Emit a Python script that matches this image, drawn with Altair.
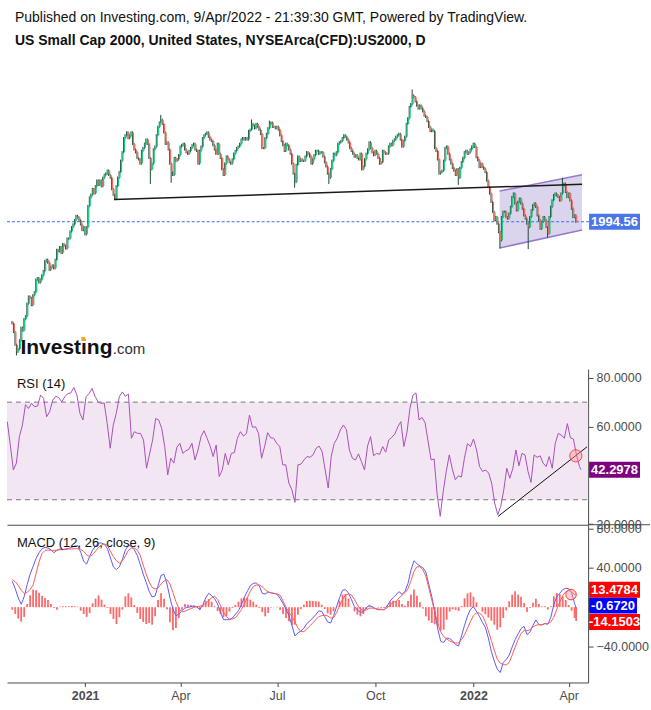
import altair as alt
import pandas as pd

# ---------------- price data (daily closes) ----------------
oct20 = [1635, 1605, 1560, 1535, 1545]
nov20 = [1575, 1620, 1610, 1650, 1660, 1705, 1730, 1725, 1700, 1735, 1745, 1790, 1795, 1780, 1790,
         1805, 1820, 1855, 1860, 1850, 1825]
dec20 = [1835, 1840, 1830, 1860, 1895, 1890, 1905, 1885, 1915, 1910, 1900, 1935, 1935, 1960, 1975,
         1985, 2000, 2015, 2010, 2000, 1985, 1965, 1975]
jan21 = [1950, 1975, 2050, 2080, 2090, 2110, 2095, 2120, 2140, 2125, 2140, 2120, 2150, 2160, 2165,
         2175, 2160, 2150, 2110, 2090, 2075]
feb21 = [2120, 2150, 2170, 2210, 2240, 2290, 2300, 2310, 2290, 2300, 2310, 2270, 2250, 2240, 2220,
         2215, 2200, 2245, 2255, 2270]
mar21 = [2285, 2270, 2220, 2180, 2200, 2250, 2260, 2300, 2330, 2345, 2355, 2340, 2310, 2270, 2275,
         2250, 2200, 2170, 2160, 2220, 2210, 2215, 2230]
apr21 = [2260, 2265, 2270, 2250, 2240, 2235, 2245, 2255, 2265, 2270, 2250, 2245, 2200, 2245, 2260,
         2290, 2300, 2305, 2310, 2295, 2285, 2280]
may21 = [2265, 2250, 2235, 2270, 2235, 2220, 2180, 2160, 2200, 2225, 2215, 2205, 2200, 2215, 2235,
         2245, 2255, 2260, 2270, 2285, 2290]
jun21 = [2285, 2290, 2285, 2315, 2320, 2340, 2335, 2325, 2340, 2330, 2320, 2305, 2255, 2255, 2290,
         2305, 2325, 2340, 2345, 2330, 2330, 2325]
jul21 = [2330, 2320, 2300, 2280, 2265, 2245, 2270, 2265, 2250, 2235, 2200, 2165, 2135, 2195, 2225,
         2210, 2215, 2210, 2210, 2225, 2240, 2235]
aug21 = [2225, 2200, 2215, 2230, 2245, 2245, 2235, 2240, 2240, 2225, 2205, 2190, 2165, 2150, 2180,
         2210, 2235, 2230, 2240, 2270, 2275, 2280]
sep21 = [2290, 2300, 2295, 2285, 2275, 2255, 2245, 2235, 2225, 2230, 2220, 2215, 2235, 2180, 2190,
         2215, 2235, 2250, 2275, 2255, 2240, 2230]
oct21 = [2245, 2235, 2220, 2200, 2205, 2245, 2240, 2235, 2235, 2260, 2270, 2265, 2280, 2285, 2295,
         2300, 2305, 2285, 2260, 2280, 2295]
nov21 = [2340, 2360, 2400, 2410, 2440, 2435, 2420, 2405, 2395, 2405, 2395, 2385, 2370, 2365, 2350,
         2330, 2315, 2320, 2315, 2255, 2245, 2215]
dec21 = [2165, 2170, 2175, 2210, 2255, 2260, 2235, 2215, 2200, 2185, 2175, 2160, 2180, 2150, 2185,
         2205, 2220, 2240, 2245, 2235, 2240, 2250, 2260]
jan22 = [2270, 2259, 2223, 2212, 2188, 2200, 2188, 2182, 2170, 2140, 2117, 2094, 2065, 2030, 2000,
         2011, 1988, 1958, 1929, 2011, 2030]
feb22 = [2030, 2011, 2006, 2023, 2047, 2082, 2094, 2059, 2035, 2065, 2076, 2059, 2041, 2017, 2006,
         1988, 1976, 2011, 2035, 2053]
mar22 = [2059, 2047, 2017, 2000, 1970, 1994, 2011, 2000, 1976, 1953, 2011, 2047, 2070, 2088, 2094,
         2088, 2082, 2070, 2094, 2123, 2129, 2100, 2082]
apr22 = [2094, 2070, 2041, 2011, 2017, 1994.56]

closes = (oct20 + nov20 + dec20 + jan21 + feb21 + mar21 + apr21 + may21 + jun21 + jul21 + aug21
          + sep21 + oct21 + nov21 + dec21 + jan22 + feb22 + mar22 + apr22)
first_open = 1640
wick_pad = 4
high_wicks = {100: 2372, 161: 2356, 173: 2352, 269: 2462, 370: 2150}
low_wicks = {3: 1522, 93: 2128, 107: 2132, 190: 2115, 213: 2128, 300: 2125, 328: 1900, 347: 1898,
             360: 1938}
last_price = 1994.56
price_ticks = [1500, 1600, 1700, 1800, 1900, 2100, 2200, 2300, 2400, 2500]

# ---------------- indicators (every second session) ----------------
rsi = [62.0, 52.4, 42.2, 45.0, 55.9, 60.6, 69.0, 67.4, 69.5, 68.1,
       68.4, 72.9, 71.5, 64.0, 66.1, 70.8, 72.4, 71.9, 70.1, 72.2,
       73.5, 73.8, 76.0, 72.9, 65.4, 62.7, 72.2, 73.5, 75.6, 72.4,
       70.1, 69.5, 69.7, 61.3, 51.1, 60.6, 65.4, 72.2, 74.2, 72.4,
       73.3, 55.2, 57.9, 57.2, 57.2, 54.5, 42.9, 48.8, 54.5, 63.3,
       62.7, 59.3, 51.8, 40.2, 47.0, 45.0, 51.5, 53.1, 49.0, 50.1,
       50.7, 53.1, 46.3, 50.4, 55.9, 58.3, 55.2, 52.0, 47.7, 52.4,
       39.5, 42.2, 49.0, 44.3, 49.0, 49.3, 55.2, 57.9, 56.1, 57.2,
       64.7, 59.7, 59.9, 57.2, 47.0, 51.8, 57.5, 55.4, 55.2, 53.1,
       51.8, 44.3, 44.3, 36.8, 34.1, 28.9, 44.3, 44.6, 46.3, 47.7,
       47.4, 48.4, 51.1, 52.0, 49.7, 42.2, 34.8, 47.7, 53.1, 55.2,
       58.6, 60.6, 58.8, 50.4, 47.0, 46.3, 48.8, 45.6, 42.2, 52.0,
       55.9, 48.0, 49.0, 48.6, 51.8, 49.5, 54.5, 55.6, 56.9, 59.9,
       62.0, 51.8, 57.5, 67.4, 72.9, 73.8, 62.7, 63.7, 61.6, 53.8,
       46.3, 46.7, 32.0, 23.2, 33.4, 41.6, 48.4, 42.5, 38.2, 39.8,
       39.3, 47.0, 53.0, 51.8, 54.9, 50.4, 43.6, 41.6, 42.2, 40.9,
       36.8, 28.6, 23.9, 27.3, 34.1, 42.9, 38.8, 42.9, 50.4, 43.9,
       49.0, 48.4, 41.6, 37.1, 48.4, 47.4, 48.0, 45.0, 43.6, 47.7,
       42.9, 53.1, 57.2, 56.5, 55.2, 61.2, 55.4, 54.9, 48.4, 43.6,
       42.2978]
macd = [26.4, 18.9, 9.4, 2.9, 10.7, 23.0, 33.8, 41.7, 49.8, 55.6,
        59.7, 61.1, 60.4, 58.7, 55.6, 58.0, 59.4, 59.0, 59.4, 60.0,
        61.1, 62.4, 62.8, 56.0, 46.8, 44.0, 51.9, 58.3, 62.4, 65.5,
        65.5, 64.1, 59.7, 50.2, 41.0, 38.3, 41.3, 48.8, 58.3, 63.1,
        62.1, 58.7, 52.9, 43.7, 33.8, 25.3, 16.2, 10.4, 11.4, 21.9,
        32.5, 33.5, 23.6, 9.4, -2.2, -8.7, -7.3, -3.6, -0.9, -0.2,
        0.5, 1.2, 0.5, -2.6, 1.9, 9.4, 14.1, 11.7, 8.7, 3.2,
        -5.6, -12.8, -12.8, -12.8, -11.1, -7.3, -3.6, 2.6, 10.0, 16.2,
        21.9, 24.3, 24.7, 21.9, 14.1, 13.4, 15.5, 14.5, 14.1, 13.1,
        9.0, 3.6, -1.9, -8.7, -18.9, -29.4, -26.4, -24.3, -21.6, -16.8,
        -14.1, -11.1, -7.7, -3.9, -4.3, -9.7, -15.1, -16.2, -8.7, 0.5,
        9.7, 17.2, 17.9, 14.5, 7.7, 0.5, -2.9, -5.3, -4.9, -0.5,
        1.9, 0.2, -1.5, -2.6, -2.6, -2.6, 1.2, 6.3, 9.7, 12.8,
        15.8, 13.1, 16.2, 24.3, 37.9, 47.4, 44.4, 42.0, 40.3, 35.9,
        23.0, 10.7, -4.9, -22.3, -34.9, -36.2, -31.5, -32.1, -34.5, -38.3,
        -39.6, -29.4, -18.5, -9.0, -2.2, 0.5, -4.3, -9.4, -15.5, -20.6,
        -31.5, -45.1, -55.3, -63.4, -66.8, -56.6, -53.6, -49.1, -40.8, -33.2,
        -27.4, -22.0, -19.6, -28.1, -25.3, -18.5, -13.1, -17.9, -18.2, -16.8,
        -17.5, -10.4, 2.6, 10.7, 14.1, 17.9, 19.2, 18.9, 14.5, 3.6,
        -0.672]
signal = [28.1, 26.0, 22.3, 17.2, 13.8, 15.1, 18.2, 22.6, 34.2, 46.4,
          54.9, 58.0, 58.3, 58.0, 58.0, 58.3, 58.7, 58.7, 59.0, 59.4,
          59.4, 59.7, 59.7, 59.0, 57.0, 53.2, 51.9, 53.6, 57.3, 61.1,
          63.4, 64.5, 63.1, 57.0, 51.5, 47.4, 45.1, 47.1, 52.2, 58.0,
          60.4, 60.4, 58.3, 52.9, 43.0, 33.8, 25.7, 20.2, 18.5, 19.6,
          23.6, 26.7, 28.1, 23.6, 14.8, 5.6, -1.5, -4.9, -4.3, -2.9,
          -1.5, -0.2, 0.5, 0.9, 1.9, 3.9, 6.3, 9.7, 11.1, 7.7,
          1.5, -5.3, -10.0, -12.1, -12.1, -10.7, -7.0, -2.6, 3.2, 9.7,
          16.2, 20.9, 22.6, 22.6, 20.9, 17.9, 15.5, 14.5, 14.1, 13.4,
          12.1, 6.3, -0.2, -5.3, -9.7, -15.1, -21.3, -25.0, -25.0, -22.3,
          -19.2, -16.2, -12.8, -9.7, -8.7, -8.3, -9.0, -11.1, -10.7, -5.6,
          1.5, 7.7, 12.4, 13.4, 12.4, 8.0, 2.2, -1.9, -3.6, -2.9,
          -1.2, -0.9, -1.5, -1.9, -2.2, -2.6, -0.5, 2.2, 4.9, 6.0,
          9.4, 12.1, 14.8, 18.9, 27.0, 36.6, 41.3, 41.3, 38.3, 31.5,
          19.6, 7.3, -4.9, -17.2, -25.3, -30.1, -32.5, -34.5, -35.9, -36.6,
          -36.6, -33.2, -28.4, -21.6, -14.5, -8.7, -6.0, -6.0, -8.7, -15.1,
          -24.0, -34.2, -44.0, -53.2, -57.3, -58.7, -59.0, -56.6, -49.1, -41.0,
          -33.2, -27.0, -24.0, -24.0, -23.0, -20.2, -18.5, -17.9, -17.9, -16.8,
          -16.8, -15.1, -10.4, -2.2, 5.3, 11.7, 15.8, 17.2, 15.5, 12.8,
          13.4784]
hist = [-2.6, -7.0, -11.7, -14.8, -10.0, 3.2, 12.1, 17.9, 17.2, 14.8,
        11.7, 9.4, 7.3, 3.2, -0.9, -2.6, 0.5, 0.9, 0.9, 0.9,
        1.2, 0.9, 0.5, -3.6, -7.0, -10.0, -6.0, 3.9, 8.7, 12.1,
        7.7, 2.6, -0.9, -7.0, -12.1, -17.2, -10.4, -2.6, 11.1, 14.1,
        10.0, 2.2, -6.0, -12.1, -15.1, -17.2, -16.2, -17.9, -9.4, 7.3,
        14.1, 8.7, -2.2, -15.5, -23.6, -21.3, -11.1, -2.6, 3.2, 2.6,
        2.2, 1.5, -0.5, -2.6, 2.2, 6.6, 8.3, 5.6, 0.9, -3.9,
        -7.0, -10.4, -9.0, -4.6, -0.9, 2.2, 5.6, 9.0, 10.0, 10.0,
        7.7, 5.6, 2.6, -0.9, -4.9, -9.4, -6.0, -0.5, 0.2, 0.5,
        -2.6, -7.0, -11.1, -14.5, -18.5, -17.9, -7.7, -1.9, 2.6, 6.3,
        6.6, 6.3, 6.0, 5.6, 2.6, -1.9, -6.3, -7.7, -4.3, 0.9,
        6.6, 12.8, 13.4, 8.7, 0.2, -4.3, -7.7, -9.4, -7.0, -1.9,
        1.2, 0.5, -0.2, -0.5, -0.9, -0.9, 1.5, 5.6, 6.6, 6.0,
        7.3, 3.2, 1.5, 6.3, 12.8, 17.9, 11.7, 4.9, -1.5, -9.4,
        -13.8, -16.2, -17.5, -18.9, -24.0, -23.0, -12.8, -4.6, -2.2, -2.9,
        -3.9, 1.2, 9.0, 14.1, 15.1, 10.7, 4.9, -0.2, -4.6, -7.3,
        -10.7, -13.8, -17.9, -23.0, -20.6, -11.1, -3.2, 6.0, 12.8, 16.2,
        12.8, 10.7, 4.3, -4.9, -0.9, 4.6, 8.7, 3.2, 0.9, 0.9,
        -2.6, 0.9, 11.1, 14.5, 13.4, 11.1, 7.3, 2.2, -3.6, -11.1,
        -14.1503]
rsi_ticks = [20, 60, 80]
macd_ticks = [80, 40, -40]

# ---------------- annotations (drawn on the chart) ----------------
neck_i = [68.4, 383.0]
neck_v = [2073, 2127]
chan_i = [327.6, 383.0]
chan_lo = [1902, 1965]
chan_hi = [2103, 2161]
rsi_trend_i = [324.3, 383.0]
rsi_trend_v = [23.2, 51.7]
rsi_circle = (375.6, 48.0)
macd_circle = (375.6, 12.8)

# ---------------- styling ----------------
FONT = "Liberation Sans"
AX = "#4a4a4a"
LAB = "#4d4d4d"
GREEN = "#19cc84"
RED = "#f26c5f"
DARK = "#1b4a35"
W = 582
H_P, H_R, H_M = 314, 156, 158
XDOM = [-0.2, 383.7]

n = len(closes)
dates = pd.bdate_range("2020-10-26", periods=n)
opens = [first_open] + closes[:-1]
rows = []
for i, (o, c) in enumerate(zip(opens, closes)):
    rows.append(dict(i=i, o=o, c=c,
                     h=high_wicks.get(i, max(o, c) + wick_pad),
                     l=low_wicks.get(i, min(o, c) - wick_pad),
                     d="up" if c >= o else "down"))
candles = pd.DataFrame(rows)

ind_i = list(range(0, n, 2)) + [n - 1]
ind = pd.DataFrame({"i": ind_i, "rsi": rsi, "macd": macd, "signal": signal, "hist": hist})
ind["zero"] = 0.0

tick_idx, tick_lab = [], []
for j in range(1, n):
    if dates[j].month != dates[j - 1].month and dates[j].month in (1, 4, 7, 10):
        tick_idx.append(j)
        tick_lab.append(str(dates[j].year) if dates[j].month == 1 else dates[j].strftime("%b"))
label_expr = " : ".join(f"datum.value == {t} ? '{l}'" for t, l in zip(tick_idx, tick_lab)) + " : ''"
bold_test = " || ".join(f"datum.value == {t}" for t, l in zip(tick_idx, tick_lab) if l.isdigit())

xscale = alt.Scale(domain=XDOM, nice=False, zero=False)
sep_axis = alt.Axis(orient="bottom", labels=False, ticks=False, domain=True, domainColor=AX,
                    title=None, grid=False)
date_axis = alt.Axis(orient="bottom", values=tick_idx, labelExpr=label_expr, title=None, grid=False,
                     domainColor=AX, tickColor=AX, tickSize=4, labelColor=LAB, labelFont=FONT,
                     labelFontSize=12.5, labelPadding=3,
                     labelFontWeight={"condition": {"test": bold_test, "value": "bold"},
                                      "value": "normal"})


def yaxis(values, fmt):
    return alt.Axis(orient="right", values=values, format=fmt, title=None, grid=False,
                    domainColor=AX, tickColor=AX, tickSize=5, labelColor=LAB, labelFont=FONT,
                    labelFontSize=12.5, labelPadding=3)


p_scale = alt.Scale(domain=[1474.2, 2582.2], nice=False, zero=False)
p_axis = yaxis(price_ticks, ".2f")
r_scale = alt.Scale(domain=[19.75, 83.6], nice=False, zero=False)
r_axis = yaxis(rsi_ticks, ".4f")
m_scale = alt.Scale(domain=[-77.0, 84.2], nice=False, zero=False)
m_axis = yaxis(macd_ticks, ".4f")


def PX(ax=sep_axis):
    return alt.X("i:Q", scale=xscale, axis=ax)


one = pd.DataFrame({"a": [0]})

# ---------------- price panel ----------------
bg = alt.Chart(one).mark_rect(fill="white").encode(
    x=alt.value(-7), x2=alt.value(644), y=alt.value(-55), y2=alt.value(655))
title1 = alt.Chart(one).mark_text(align="left", baseline="middle", font=FONT, fontSize=14,
                                  color="#111").encode(
    x=alt.value(8), y=alt.value(-38),
    text=alt.value("Published on Investing.com, 9/Apr/2022 - 21:39:30 GMT, Powered by TradingView."))
title2 = alt.Chart(one).mark_text(align="left", baseline="middle", font=FONT, fontSize=14,
                                  fontWeight="bold", color="#111").encode(
    x=alt.value(8), y=alt.value(-14),
    text=alt.value("US Small Cap 2000, United States, NYSEArca(CFD):US2000, D"))

chan_df = pd.DataFrame({"i": chan_i, "lo": chan_lo, "hi": chan_hi})
channel = alt.Chart(chan_df).mark_area(color="#cdc6e6", opacity=0.75).encode(
    x=PX(), y=alt.Y("lo:Q", scale=p_scale, axis=p_axis), y2="hi:Q")
chan_top = alt.Chart(chan_df).mark_line(color="#9a78cf", strokeWidth=1.5).encode(
    x=PX(), y=alt.Y("hi:Q", scale=p_scale, axis=p_axis))
chan_bot = alt.Chart(chan_df).mark_line(color="#9a78cf", strokeWidth=1.5).encode(
    x=PX(), y=alt.Y("lo:Q", scale=p_scale, axis=p_axis))

last_df = pd.DataFrame({"v": [last_price], "t": [f"{last_price:.2f}"]})
last_line = alt.Chart(last_df).mark_rule(color="#3a6df0", strokeWidth=1, strokeDash=[3, 2]).encode(
    y=alt.Y("v:Q", scale=p_scale, axis=p_axis), x=alt.value(0), x2=alt.value(583))

wicks = alt.Chart(candles).mark_rule(color=DARK, strokeWidth=1, xOffset=-0.3).encode(
    x=PX(), y=alt.Y("l:Q", scale=p_scale, axis=p_axis), y2="h:Q")
bodies = alt.Chart(candles).mark_bar(width=1.3, xOffset=0.6).encode(
    x=PX(), y=alt.Y("o:Q", scale=p_scale, axis=p_axis), y2="c:Q",
    color=alt.Color("d:N", scale=alt.Scale(domain=["up", "down"], range=[GREEN, RED]), legend=None))

neck_df = pd.DataFrame({"i": neck_i, "v": neck_v})
neck = alt.Chart(neck_df).mark_line(color="#1a1a1a", strokeWidth=1.5).encode(
    x=PX(), y=alt.Y("v:Q", scale=p_scale, axis=p_axis))

last_box = alt.Chart(last_df).mark_rule(color="#4a76e8", strokeWidth=16).encode(
    y=alt.Y("v:Q", scale=p_scale, axis=p_axis), x=alt.value(583), x2=alt.value(634))
last_txt = alt.Chart(last_df).mark_text(color="white", font=FONT, fontSize=13, fontWeight="bold",
                                        align="center", baseline="middle").encode(
    y=alt.Y("v:Q", scale=p_scale, axis=p_axis), x=alt.value(608.5), text="t:N")

logo1 = alt.Chart(one).mark_text(align="left", baseline="alphabetic", font=FONT, fontSize=21,
                                 fontWeight="bold", color="#111").encode(
    x=alt.value(13.5), y=alt.value(298.5), text=alt.value("Investing"))
logo2 = alt.Chart(one).mark_text(align="left", baseline="alphabetic", font=FONT, fontSize=15,
                                 color="#333").encode(
    x=alt.value(106), y=alt.value(298.5), text=alt.value(".com"))
logo_dot = alt.Chart(one).mark_square(color="#f5a623", size=16, opacity=1).encode(
    x=alt.value(76.5), y=alt.value(284))

price = alt.layer(bg, title1, title2, channel, chan_top, chan_bot, last_line, wicks, bodies, neck,
                  last_box, last_txt, logo1, logo2, logo_dot).properties(width=W, height=H_P)

# ---------------- RSI panel ----------------
band_df = pd.DataFrame({"top": [70], "bot": [30]})
lvl_df = pd.DataFrame({"v": [70, 30]})
band = alt.Chart(band_df).mark_rect(color="#f2e6f2").encode(
    y=alt.Y("top:Q", scale=r_scale, axis=r_axis), y2="bot:Q", x=alt.value(0), x2=alt.value(W))
levels = alt.Chart(lvl_df).mark_rule(color="#777777", strokeDash=[5, 4], strokeWidth=1).encode(
    y=alt.Y("v:Q", scale=r_scale, axis=r_axis), x=alt.value(0), x2=alt.value(W))
rsi_line = alt.Chart(ind).mark_line(color="#ab4fbd", strokeWidth=1).encode(
    x=PX(), y=alt.Y("rsi:Q", scale=r_scale, axis=r_axis))
rt_df = pd.DataFrame({"i": rsi_trend_i, "v": rsi_trend_v})
rsi_trend = alt.Chart(rt_df).mark_line(color="#111", strokeWidth=1).encode(
    x=PX(), y=alt.Y("v:Q", scale=r_scale, axis=r_axis))
rc_df = pd.DataFrame({"i": [rsi_circle[0]], "v": [rsi_circle[1]]})
rsi_circ = alt.Chart(rc_df).mark_point(shape="circle", filled=True, fill="#ff9a9a", fillOpacity=0.45,
                                       stroke="#f04040", strokeWidth=1, strokeOpacity=0.9,
                                       size=150).encode(
    x=PX(), y=alt.Y("v:Q", scale=r_scale, axis=r_axis))
rsi_title = alt.Chart(one).mark_text(align="left", baseline="middle", font=FONT, fontSize=13,
                                     color="#111").encode(
    x=alt.value(10), y=alt.value(15), text=alt.value("RSI (14)"))
rl_df = pd.DataFrame({"v": [rsi[-1]], "t": [f"{rsi[-1]:.4f}"]})
rsi_box = alt.Chart(rl_df).mark_rule(color="#7f007f", strokeWidth=16).encode(
    y=alt.Y("v:Q", scale=r_scale, axis=r_axis), x=alt.value(583), x2=alt.value(634))
rsi_txt = alt.Chart(rl_df).mark_text(color="white", font=FONT, fontSize=13, fontWeight="bold",
                                     align="center", baseline="middle").encode(
    y=alt.Y("v:Q", scale=r_scale, axis=r_axis), x=alt.value(608.5), text="t:N")

rsi_panel = alt.layer(band, levels, rsi_line, rsi_trend, rsi_circ, rsi_title, rsi_box,
                      rsi_txt).properties(width=W, height=H_R)

# ---------------- MACD panel ----------------
hist_bars = alt.Chart(ind).mark_bar(width=1.8, color="#ff4d4d", opacity=0.85).encode(
    x=PX(date_axis), y=alt.Y("hist:Q", scale=m_scale, axis=m_axis), y2="zero:Q")
macd_line = alt.Chart(ind).mark_line(color="#5a5aff", strokeWidth=1).encode(
    x=PX(date_axis), y=alt.Y("macd:Q", scale=m_scale, axis=m_axis))
sig_line = alt.Chart(ind).mark_line(color="#ff5a5a", strokeWidth=1).encode(
    x=PX(date_axis), y=alt.Y("signal:Q", scale=m_scale, axis=m_axis))
mc_df = pd.DataFrame({"i": [macd_circle[0]], "v": [macd_circle[1]]})
macd_circ = alt.Chart(mc_df).mark_point(shape="circle", filled=True, fill="#ff9a9a", fillOpacity=0.45,
                                        stroke="#f04040", strokeWidth=1, size=110).encode(
    x=PX(date_axis), y=alt.Y("v:Q", scale=m_scale, axis=m_axis))
macd_title = alt.Chart(one).mark_text(align="left", baseline="middle", font=FONT, fontSize=13,
                                      color="#111").encode(
    x=alt.value(10), y=alt.value(18), text=alt.value("MACD (12, 26, close, 9)"))
sep_ext = alt.Chart(one).mark_rule(color=AX, strokeWidth=1).encode(
    x=alt.value(582), x2=alt.value(644), y=alt.value(0))

m_labels = pd.DataFrame({
    "y": [65.0, 81.0, 97.3],
    "x2": [634, 631, 634],
    "t": [f"{signal[-1]:.4f}", f"{macd[-1]:.4f}", f"{hist[-1]:.4f}"],
    "col": ["#ff0000", "#0000ff", "#ff0000"],
})
m_boxes = [
    alt.Chart(m_labels.iloc[[k]]).mark_rule(strokeWidth=16, color=m_labels["col"][k]).encode(
        x=alt.value(583), x2=alt.value(int(m_labels["x2"][k])), y=alt.value(float(m_labels["y"][k])))
    for k in range(3)
]
m_texts = [
    alt.Chart(m_labels.iloc[[k]]).mark_text(color="white", font=FONT, fontSize=13, fontWeight="bold",
                                            align="center", baseline="middle").encode(
        x=alt.value((583 + int(m_labels["x2"][k])) / 2), y=alt.value(float(m_labels["y"][k])),
        text="t:N")
    for k in range(3)
]

macd_panel = alt.layer(hist_bars, macd_line, sig_line, macd_circ, macd_title, sep_ext,
                       *m_boxes, *m_texts).properties(width=W, height=H_M)

chart = alt.vconcat(price, rsi_panel, macd_panel, spacing=0, bounds="flush").properties(
    padding=0, background="white"
).configure_view(stroke=None)

chart.save("out.html", embed_options={"renderer": "svg", "actions": False})
